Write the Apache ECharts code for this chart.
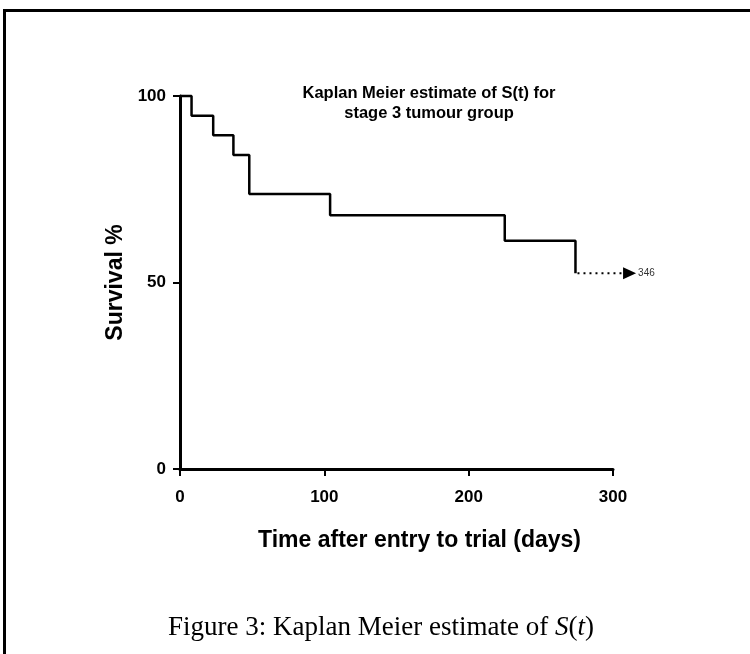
<!DOCTYPE html>
<html>
<head>
<meta charset="utf-8">
<script src="https://cdn.jsdelivr.net/npm/echarts@6/dist/echarts.min.js"></script>
<style>
  html, body { margin: 0; padding: 0; background: #fff; }
  #chart { width: 750px; height: 654px; }
</style>
</head>
<body>
<div id="chart"></div>
<script>
// event times (days) and survival estimate (%)
var times = [0, 8, 23, 37, 48, 104, 225, 274];
var survival = [100, 94.7, 89.5, 84.2, 73.7, 68.0, 61.2, 52.5];
// censored tail: starts at last event, arrow drawn past the axis end, last follow-up 346 days
var censorStart = [274];
var censorEnd = [316];
var censorLevel = [52.5];
var censorLabel = ['346'];
var xTicks = [0, 100, 200, 300];
var yTicks = [0, 50, 100];

var kmData = times.map(function (t, i) { return [t, survival[i]]; });
var tailData = censorStart.map(function (t, i) { return [t, censorLevel[i], censorEnd[i]]; });

var sans = '"Liberation Sans", Arial, sans-serif';
var serif = '"Liberation Serif", "Times New Roman", serif';
var chart = echarts.init(document.getElementById('chart'));

function renderTail(params, api) {
    var p0 = api.coord([api.value(0), api.value(1)]);
    var p1 = api.coord([api.value(2), api.value(1)]);
    var arrowLen = 13, arrowHalf = 6;
    return {
        type: 'group',
        children: [
            {
                type: 'line',
                shape: { x1: p0[0] + 2, y1: p0[1], x2: p1[0] - arrowLen, y2: p1[1] },
                style: { stroke: '#000', lineWidth: 2, lineDash: [2, 4] }
            },
            {
                type: 'polygon',
                shape: { points: [[p1[0], p1[1]], [p1[0] - arrowLen, p1[1] - arrowHalf], [p1[0] - arrowLen, p1[1] + arrowHalf]] },
                style: { fill: '#000' }
            },
            {
                type: 'text',
                x: p1[0] + 2,
                y: p1[1],
                style: {
                    text: censorLabel[params.dataIndex],
                    fontFamily: sans, fontSize: 10, fill: '#333',
                    verticalAlign: 'middle', align: 'left'
                }
            }
        ]
    };
}

chart.setOption({
    animation: false,
    backgroundColor: '#fff',
    title: {
        text: 'Kaplan Meier estimate of S(t) for\nstage 3 tumour group',
        left: 424,
        top: 78,
        textAlign: 'center',
        textStyle: { fontFamily: sans, fontWeight: 'bold', fontSize: 16.5, color: '#000', lineHeight: 20 }
    },
    grid: { left: 180, right: 137, top: 96, bottom: 185, containLabel: false },
    xAxis: {
        type: 'value',
        min: xTicks[0], max: xTicks[xTicks.length - 1], interval: 100,
        name: 'Time after entry to trial (days)',
        nameLocation: 'middle',
        nameGap: 60,
        nameTextStyle: { fontFamily: sans, fontWeight: 'bold', fontSize: 23, color: '#000', padding: [0, 0, 0, 46] },
        axisLine: { lineStyle: { color: '#000', width: 3 } },
        axisTick: { length: 7, lineStyle: { color: '#000', width: 2 } },
        axisLabel: { margin: 20, fontFamily: sans, fontWeight: 'bold', fontSize: 17, color: '#000' },
        splitLine: { show: false }
    },
    yAxis: {
        type: 'value',
        min: yTicks[0], max: yTicks[yTicks.length - 1], interval: 50,
        name: 'Survival %',
        nameLocation: 'middle',
        nameGap: 45,
        nameTextStyle: { fontFamily: sans, fontWeight: 'bold', fontSize: 23, color: '#000' },
        axisLine: { lineStyle: { color: '#000', width: 3 } },
        axisTick: { length: 7, lineStyle: { color: '#000', width: 2 } },
        axisLabel: { margin: 14, fontFamily: sans, fontWeight: 'bold', fontSize: 17, color: '#000' },
        splitLine: { show: false }
    },
    series: [
        {
            type: 'line',
            step: 'end',
            data: kmData,
            symbol: 'none',
            clip: false,
            lineStyle: { color: '#000', width: 2.5 }
        },
        {
            type: 'custom',
            data: tailData,
            clip: false,
            renderItem: renderTail
        }
    ],
    graphic: [
        {
            type: 'polyline',
            shape: { points: [[4.5, 660], [4.5, 10.5], [752, 10.5]] },
            style: { stroke: '#000', lineWidth: 3, fill: null }
        },
        {
            type: 'text',
            x: 381,
            y: 628,
            style: {
                text: '{n|Figure 3: Kaplan Meier estimate of }{i|S}{n|(}{i|t}{n|)}',
                align: 'center',
                verticalAlign: 'middle',
                rich: {
                    n: { fontFamily: serif, fontSize: 27, fill: '#000' },
                    i: { fontFamily: serif, fontSize: 27, fontStyle: 'italic', fill: '#000' }
                }
            }
        }
    ]
});
</script>
</body>
</html>
